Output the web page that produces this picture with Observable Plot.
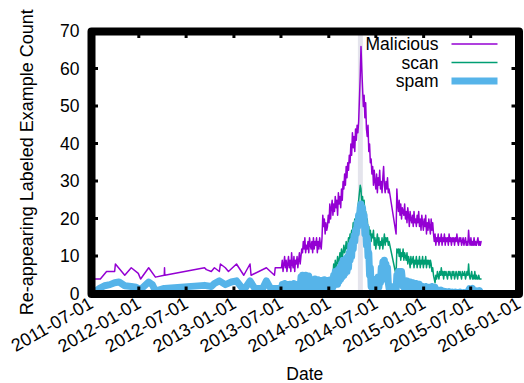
<!DOCTYPE html>
<html><head><meta charset="utf-8">
<script src="https://cdn.jsdelivr.net/npm/d3@7"></script>
<script src="https://cdn.jsdelivr.net/npm/@observablehq/plot@0.6"></script>
<style>
body{margin:0;background:#fff}
svg{font-family:"Liberation Sans",Arial,Helvetica,sans-serif}
</style>
</head><body><div id="chart"></div>
<script>
// ---------- data ----------
const seriesNames = ["Malicious", "scan", "spam"];
const seriesColors = ["#9400d3", "#009e73", "#56b4e9"];

// sparse early observations [date, count]
const malSparse = [
  ["2011-07-03",4],["2011-08-04",4],["2011-08-28",6],["2011-09-28",6],["2011-10-01",8],
  ["2011-10-13",7],["2011-11-06",5],["2011-12-01",7],["2011-12-28",5.5],["2012-01-06",4],
  ["2012-02-06",7],["2012-03-03",4.5],["2012-04-06",5],["2012-04-07",7],["2012-04-08",5],
  ["2012-09-08",7],["2012-09-15",6.5],["2012-10-04",6],["2012-10-16",7],["2012-11-04",6],
  ["2012-11-08",8],["2012-11-27",7],["2012-12-09",6],["2013-01-09",8],["2013-02-06",5],
  ["2013-03-02",8],["2013-03-06",5],["2013-05-04",7],["2013-06-04",5],["2013-06-07",7]
];
const spamSparse = [
  ["2011-07-08",0.3],["2011-08-01",1.5],["2011-08-20",2.2],["2011-09-10",2.5],["2011-09-28",3],
  ["2011-10-15",3.2],["2011-11-06",2.2],["2011-12-01",2],["2011-12-20",1.8],["2012-01-06",1.2],
  ["2012-02-06",3.2],["2012-02-20",2.5],["2012-03-03",0.8],["2012-04-06",1.5],["2012-09-08",2.3],
  ["2012-10-04",2],["2012-10-16",2.8],["2012-11-04",3.5],["2012-11-27",2.5],["2012-12-20",3.2],
  ["2013-01-09",3.5],["2013-02-06",1],["2013-03-02",3.5],["2013-03-20",1.5],["2013-04-20",1.5],
  ["2013-05-04",3.5],["2013-05-20",1.5],["2013-06-10",1.5]
];

// dense observations from denseStart, one every denseStepDays (null = no observation)
const denseStart = "2013-07-01";
const denseStepDays = 3;
const malDense = [
  7,9,6,8,10,7,9,6,8,10,
  7,9,6,11,8,7,10,6,9,8,
  10,7,9,11,8,10,12,11,14,12,
  15,11,13,12,14,11,15,13,12,14,
  11,15,12,14,13,15,11,14,12,15,
  13,12,15,21,18,20,16,19,17,18,
  21,19,24,20,23,25,21,24,22,26,
  23,25,21,27,24,26,23,28,25,30,
  28,32,29,34,31,35,33,37,35,40,
  37,43,39,42,38,44,41,45,43,46,
  52,58,66,60,55,50,53,47,51,44,
  42,45,38,40,35,36,32,34,29,33,
  30,28,32,27,31,29,33,28,30,27,
  31,34,29,27,30,28,31,27,28,null,
  null,null,null,null,null,null,null,16,28,24,
  22,25,21,24,20,23,22,21,24,20,
  22,19,23,21,18,22,20,19,21,18,
  22,19,20,18,21,19,22,18,20,17,
  21,19,17,20,18,21,16,19,17,20,
  18,16,20,17,19,16,14,16,13,15,
  14,16,13,15,14,16,13,15,14,16,
  13,15,14,15,13,16,14,15,13,15,
  14,15,13,15,14,16,14,13,15,14,
  15,13,14,15,13,14,15,13,14,13,
  17,14,13,15,13,14,13,15,13,14,
  13,14,15,13,14,13,14
];
const scanDense = [
  2,3,1,2,3,2,1,3,2,2,
  3,1,2,3,2,1,2,3,2,1,
  3,2,2,3,1,2,4,3,2,4,
  3,2,4,3,2,3,4,2,3,4,
  2,3,4,3,2,4,3,2,3,4,
  3,2,4,3,2,3,4,3,2,4,
  3,4,2,3,5,4,5,8,6,9,
  7,8,10,8,9,11,9,12,10,11,
  13,11,12,14,12,13,15,14,16,15,
  17,16,19,18,20,19,21,20,23,25,
  27,29,28,24,26,23,25,21,22,19,
  20,17,18,15,17,14,16,15,17,13,
  15,12,14,16,13,15,12,14,13,15,
  12,14,16,13,15,14,15,13,14,null,
  null,null,null,null,null,null,null,5,12,11,
  12,10,12,9,11,10,12,9,11,10,
  9,11,8,10,9,7,10,8,9,10,
  7,9,8,10,7,9,8,10,7,9,
  8,10,7,9,8,10,7,9,8,9,
  7,9,8,6,7,5,4,3,5,4,
  6,5,4,6,5,7,5,6,4,6,
  5,6,5,4,6,5,6,5,4,6,
  5,6,4,5,6,5,4,6,5,6,
  5,4,6,5,5,6,4,5,6,5,
  8,5,4,5,6,4,5,4,6,4,
  5,4,4,5,4,4,4
];
const spamDense = [
  1.5,2.5,1,2,2.8,1.2,2,2.6,1.4,2.2,
  1.2,2.6,1.6,2.4,1,2.2,2.8,1.4,2,2.6,
  1.2,2.4,1.8,2.8,1.4,4.5,2,5,1.8,4.6,
  2.4,5,1.6,4.2,2,4.8,1.6,3.6,1.2,3.8,
  1.8,3.4,1.2,4,1.6,3.2,1.4,3.8,2,3.4,
  1.2,3.6,1.6,3,1.4,3.8,1.8,3.2,1.2,3.6,
  1.6,3.4,1.2,3.8,2,3.4,1.8,5,2.4,6,
  3,5.5,2.6,6.5,3.4,7,4,8,4.6,9,
  5,8.5,5.6,9.5,6,10,7,11,9,13,
  10,14,12,15.5,14,17,16,19,18,21,
  20,23,24,22,23,19,21,16,18,13,
  15,10,11,5,7,2,3,1,2.5,1,
  2,1.5,4,2,4.5,1.8,4,3,7,4,
  8.5,5,9,4,8,5,7,3,1.5,1,
  2,0.8,1.6,1,2,0.8,1.5,1,5,3,
  6,3.5,5.5,3,6,4,2,3.5,1.2,3,
  1.5,3.5,1,2.8,1.6,3.2,0.8,2.6,1.4,3,
  1,2.4,1.6,2.8,0.8,2.2,1.4,2.6,1,2,
  1.2,2,0.8,1.8,1.2,2,0.8,1.6,1,1.8,
  0.8,1.6,1.2,2,0.6,1.4,1,1.8,0.6,1.2,
  0.8,1,0.4,0.9,0.5,1,0.3,0.8,0.4,0.7,
  0.3,0.6,0.2,0.5,0.3,0.6,0.2,0.4,0.3,0.5,
  0.2,0.4,0.3,0.5,0.2,0.3,0.4,0.2,0.3,0.5,
  0.2,0.4,0.3,0.2,0.4,0.3,0.2,0.3,0.4,0.6,
  1,1.4,0.6,1.2,0.8,1.5,0.5,0.8,0.3,0.6,
  0.4,0.8,0.3,0.5,0.9,0.4,0.3
];

const xTicks = ["2011-07-01","2012-01-01","2012-07-01","2013-01-01","2013-07-01",
                "2014-01-01","2014-07-01","2015-01-01","2015-07-01","2016-01-01"];
const yTicks = [0,10,20,30,40,50,60,70];
const highlightSpan = ["2014-04-23","2014-05-12"];
const xTitle = "Date";
const yTitle = "Re-appearing Labeled Example Count";

// ---------- build tables ----------
const parse = d3.utcParse("%Y-%m-%d");
const fmt = d3.utcFormat("%Y-%m-%d");
const start = parse(denseStart);
function build(sparse, dense) {
  const rows = sparse.map(([d, v]) => ({date: parse(d), value: v}));
  dense.forEach((v, k) => { if (v != null) rows.push({date: d3.utcDay.offset(start, k * denseStepDays), value: v}); });
  return rows;
}
const malRows = build(malSparse, malDense);
const scanRows = build([], scanDense);
const spamRows = build(spamSparse, spamDense);
const xTickDates = xTicks.map(parse);

// ---------- decorations (mirror ticks, legend, titles) ----------
function decorations(index, scales, values, dim) {
  const g = d3.create("svg:g");
  const L = dim.marginLeft, R = dim.width - dim.marginRight;
  const T = dim.marginTop, B = dim.height - dim.marginBottom;
  const x = scales.x, y = scales.y;
  const tk = 7;
  for (const d of xTickDates) {
    const px = x(d);
    g.append("line").attr("x1", px).attr("x2", px).attr("y1", T).attr("y2", T + tk);
    g.append("line").attr("x1", px).attr("x2", px).attr("y1", B).attr("y2", B - tk);
  }
  for (const v of yTicks) {
    const py = y(v);
    g.append("line").attr("x1", L).attr("x2", L + tk).attr("y1", py).attr("y2", py);
    g.append("line").attr("x1", R).attr("x2", R - tk).attr("y1", py).attr("y2", py);
  }
  g.selectAll("line").attr("stroke", "black").attr("stroke-width", 3);
  const widths = [1.5, 1.5, 7];
  seriesNames.forEach((name, i) => {
    const cy = T + 13 + i * 18.5;
    g.append("text").attr("x", R - 80).attr("y", cy).attr("dy", "0.36em")
      .attr("text-anchor", "end").attr("font-size", 17.5).attr("fill", "black").text(name);
    g.append("line").attr("x1", R - 67).attr("x2", R - 21).attr("y1", cy).attr("y2", cy)
      .attr("stroke", seriesColors[i]).attr("stroke-width", widths[i]);
  });
  g.append("text").attr("transform", `translate(33,${(T + B) / 2}) rotate(-90)`)
    .attr("text-anchor", "middle").attr("font-size", 18).attr("fill", "black").text(yTitle);
  g.append("text").attr("x", (L + R) / 2).attr("y", 380)
    .attr("text-anchor", "middle").attr("font-size", 17.5).attr("fill", "black").text(xTitle);
  return g.node();
}

const chart = Plot.plot({
  width: 524, height: 383,
  marginLeft: 91, marginRight: 5.5, marginTop: 31, marginBottom: 89.5,
  style: {fontFamily: '"Liberation Sans",Arial,sans-serif', fontSize: "17px", background: "white", color: "black"},
  x: {type: "utc", domain: [xTickDates[0], xTickDates[xTickDates.length - 1]]},
  y: {domain: [0, 70]},
  marks: [
    Plot.rect([highlightSpan], {x1: d => parse(d[0]), x2: d => parse(d[1]), y1: 0, y2: 70, fill: "#e4e4ec"}),
    Plot.line(malRows, {x: "date", y: "value", stroke: seriesColors[0], strokeWidth: 1.5}),
    Plot.line(scanRows, {x: "date", y: "value", stroke: seriesColors[1], strokeWidth: 1.5}),
    Plot.line(spamRows, {x: "date", y: "value", stroke: seriesColors[2], strokeWidth: 7}),
    Plot.axisX({ticks: xTickDates, tickFormat: fmt, tickSize: 0, tickPadding: 8, tickRotate: -30, fontSize: 18, label: null}),
    Plot.axisY({ticks: yTicks, tickSize: 0, tickPadding: 12, fontSize: 17.5, label: null}),
    Plot.frame({stroke: "black", strokeWidth: 8, strokeLinejoin: "round"}),
    decorations
  ]
});
document.getElementById("chart").appendChild(chart);
</script>
</body></html>
